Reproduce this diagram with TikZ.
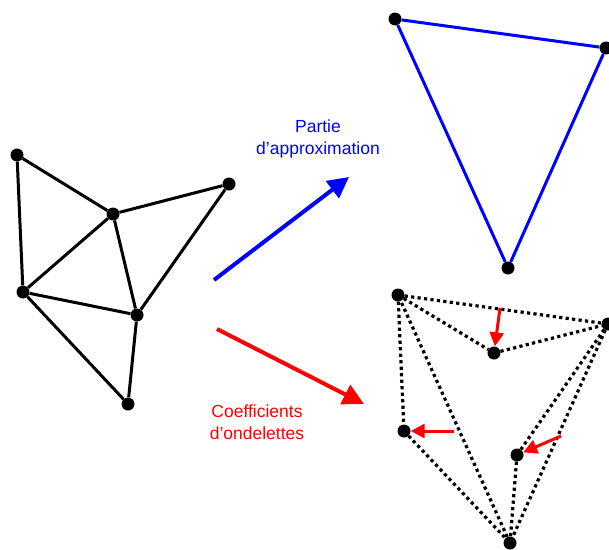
\documentclass[tikz,border=0pt]{standalone}
\usepackage{fontspec}
\setmainfont{Liberation Sans}
\usetikzlibrary{arrows.meta}

\tikzset{
  dot/.style={circle, fill=black, inner sep=0pt, minimum size=13pt},
  edge/.style={line width=3pt},
  dotedge/.style={line width=3.2pt, dash pattern=on 3.2pt off 3.3pt},
  bigarrow/.style={line width=4pt, -{Triangle[length=21pt,width=21pt]}},
  smallarrow/.style={line width=3pt, red, -{Triangle[length=14pt,width=14pt]}},
  lbl/.style={align=center, font=\fontsize{17.5}{22}\selectfont}
}

\begin{document}
\begin{tikzpicture}[x=1pt, y=-1pt]
        \useasboundingbox (0,0) rectangle (609,549);

        % Original mesh
        \node[dot] (a) at (17,155) {};
        \node[dot] (b) at (113,214) {};
        \node[dot] (c) at (229,184) {};
        \node[dot] (d) at (23,292) {};
        \node[dot] (e) at (137,315) {};
        \node[dot] (f) at (128,404) {};
        \draw[edge] (a) -- (b) -- (c) -- (e) -- (f) -- (d) -- (a);
        \draw[edge] (b) -- (d) -- (e) -- (b);

        % Approximation
        \node[dot] (p) at (395,19) {};
        \node[dot] (q) at (606,48) {};
        \node[dot] (r) at (508,268) {};
        \draw[edge, blue] (p) -- (q) -- (r) -- (p);

        % Wavelet coefficients
        \node[dot] (t1) at (398,295) {};
        \node[dot] (t2) at (608,324) {};
        \node[dot] (t3) at (510,543) {};
        \node[dot] (m1) at (494,353) {};
        \node[dot] (m2) at (404,431) {};
        \node[dot] (m3) at (517,455) {};
        \draw[dotedge] (t1) -- (t2) -- (t3) -- (t1);
        \draw[dotedge] (t1) -- (m1) -- (t2);
        \draw[dotedge] (t1) -- (m2) -- (t3);
        \draw[dotedge] (t2) -- (m3) -- (t3);

        % Detail vectors
        \coordinate (s1) at (500,308);
        \coordinate (s2) at (454,431);
        \coordinate (s3) at (561,436);
        \draw[smallarrow] (s1) -- (m1);
        \draw[smallarrow] (s2) -- (m2);
        \draw[smallarrow] (s3) -- (m3);

        % Big arrows
        \coordinate (u0) at (214,280);
        \coordinate (u1) at (349,177);
        \coordinate (v0) at (217,329);
        \coordinate (v1) at (364,404);
        \draw[bigarrow, blue] (u0) -- (u1);
        \draw[bigarrow, red] (v0) -- (v1);

        \node[lbl, blue] (approx) at (318,139) {Partie\\d'approximation};
        \node[lbl, red] (coef) at (257,422) {Coefficients\\d'ondelettes};
\end{tikzpicture}
\end{document}
